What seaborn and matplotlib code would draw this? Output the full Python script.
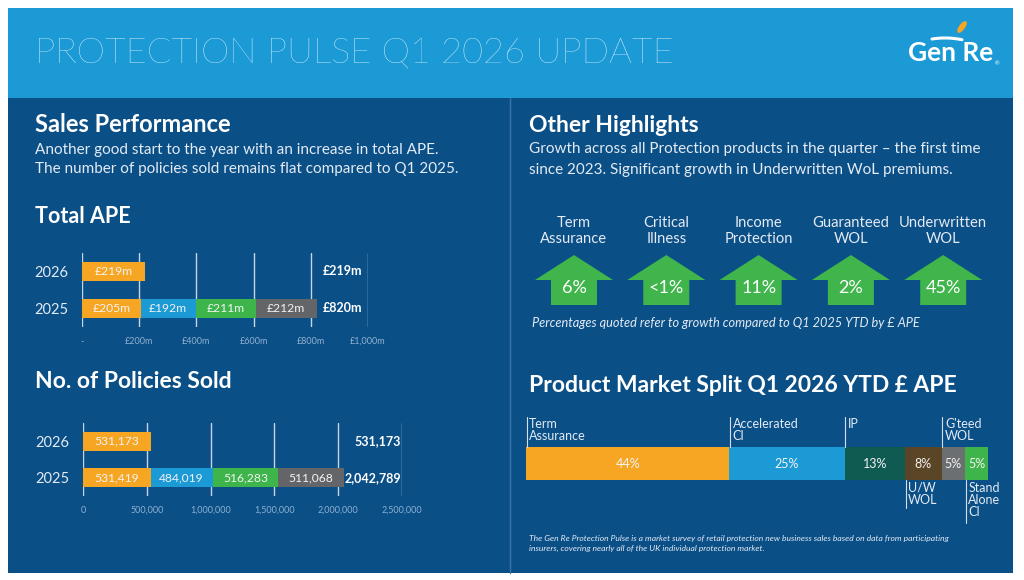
import numpy as np
import pandas as pd
import matplotlib
matplotlib.use("Agg")
import matplotlib.pyplot as plt
import seaborn as sns
from matplotlib.patches import Rectangle, Polygon, Ellipse
from matplotlib.lines import Line2D

# ---------------- data ----------------
title = "PROTECTION PULSE Q1 2026 UPDATE"
years = ["2026", "2025"]
ape_2026 = [219]
ape_2025 = [205, 192, 211, 212]
ape_seg_labels_2026 = ["£219m"]
ape_seg_labels_2025 = ["£205m", "£192m", "£211m", "£212m"]
ape_totals = ["£219m", "£820m"]
ape_ticks = [0, 200, 400, 600, 800, 1000]
ape_tick_labels = ["-", "£200m", "£400m", "£600m", "£800m", "£1,000m"]

pol_2026 = [531173]
pol_2025 = [531419, 484019, 516283, 511068]
pol_totals = ["531,173", "2,042,789"]
pol_ticks = [0, 500000, 1000000, 1500000, 2000000, 2500000]
pol_tick_labels = ["0", "500,000", "1,000,000", "1,500,000", "2,000,000", "2,500,000"]

growth_products = ["Term\nAssurance", "Critical\nIllness", "Income\nProtection",
                   "Guaranteed\nWOL", "Underwritten\nWOL"]
growth_labels = ["6%", "<1%", "11%", "2%", "45%"]

split_products = ["Term\nAssurance", "Accelerated\nCI", "IP", "U/W\nWOL",
                  "G'teed\nWOL", "Stand\nAlone\nCI"]
split_values = [44, 25, 13, 8, 5, 5]

# ---------------- style ----------------
HEADER = "#1b9ad6"
BODY = "#0b4f87"
QCOLS = ["#f6a623", "#1b9ad6", "#3db54a", "#646568"]
SPLIT_COLS = ["#f6a623", "#1b9ad6", "#0f5b52", "#5a4526", "#6c6f72", "#3db54a"]
ARROW = "#3fb54b"

sns.set_style("white")
plt.rcParams["font.family"] = ["Lato", "DejaVu Sans"]

W, H = 1024, 580
fig = plt.figure(figsize=(W / 100, H / 100), dpi=100)
fig.patch.set_facecolor("white")


def fx(x):
    return x / W


def fy(y):
    return 1 - y / H


def ftext(x, y, s, **kw):
    return fig.text(fx(x), fy(y), s, **kw)


def add_ax(l, t, r, b):
    return fig.add_axes([fx(l), fy(b), (r - l) / W, (b - t) / H])


def frect(l, t, r, b, color):
    fig.add_artist(Rectangle((fx(l), fy(b)), (r - l) / W, (b - t) / H,
                             transform=fig.transFigure, color=color, lw=0, zorder=0))


# backgrounds
frect(8, 8, 1013, 573, BODY)
frect(8, 8, 1013, 98, HEADER)
fig.add_artist(Line2D([fx(510), fx(510)], [fy(98), fy(573)], transform=fig.transFigure,
                      color="#3a74aa", lw=1.0))

# header
ftext(35, 53, title, fontsize=26, color="white", fontweight="light", va="center", ha="left")
ftext(908, 53, "Gen Re", fontsize=19, color="white", fontweight="bold", va="center", ha="left")
ftext(995, 64, "®", fontsize=4, color="white", va="center", ha="left")
sw_x = np.linspace(932, 962, 30)
sw_y = 36 + 0.012 * (sw_x - 945) ** 2 * 0.5 + 2
fig.add_artist(Line2D(fx(sw_x), fy(sw_y), transform=fig.transFigure, color="white", lw=2.2))
fig.add_artist(Ellipse((fx(962), fy(27)), 5 / W, 11 / H, angle=-20,
                       transform=fig.transFigure, color="#f6a623"))

LIGHT = "#e3ebf4"
HEAD_FS = 16.5
BODY_FS = 11

# left panel texts
ftext(35, 125, "Sales Performance", fontsize=17, color="white", fontweight="bold", va="center")
ftext(35, 150, "Another good start to the year with an increase in total APE.",
      fontsize=BODY_FS, color=LIGHT, va="center")
ftext(35, 169, "The number of policies sold remains flat compared to Q1 2025.",
      fontsize=BODY_FS, color=LIGHT, va="center")
ftext(35, 216, "Total APE", fontsize=15.5, color="white", fontweight="bold", va="center")
ftext(35, 381, "No. of Policies Sold", fontsize=HEAD_FS, color="white", fontweight="bold", va="center")


def stacked(ax, rows, colors, width):
    nseg = max(len(v) for v in rows.values())
    for k in range(nseg - 1, -1, -1):
        cats, cums = [], []
        for cat in years:
            vals = rows[cat]
            if len(vals) > k:
                cats.append(cat)
                cums.append(float(np.sum(vals[:k + 1])))
        df = pd.DataFrame({"value": cums, "year": cats})
        sns.barplot(data=df, x="value", y="year", order=years, orient="h",
                    color=colors[k], saturation=1, width=width, ax=ax,
                    errorbar=None, linewidth=0, edgecolor="none")


def style_bar_ax(ax, ticks, ticklabels, xmax):
    ax.set_xlim(0, xmax)
    ax.set_ylim(1.5, -0.5)
    ax.set_xticks(ticks)
    ax.set_xticklabels(ticklabels)
    ax.set_facecolor("none")
    for s in ax.spines.values():
        s.set_visible(False)
    ax.grid(axis="x", color="#c4d5e8", lw=1.0)
    ax.grid(axis="y", visible=False)
    ax.set_axisbelow(True)
    ax.tick_params(axis="x", length=0, pad=7, labelsize=6.5, labelcolor="#8fb0d0")
    ax.tick_params(axis="y", length=0, pad=10, labelsize=10.5, labelcolor=LIGHT)
    ax.set_xlabel("")
    ax.set_ylabel("")


def seg_labels(ax, rows, labels):
    for i, cat in enumerate(years):
        vals = np.array(rows[cat], dtype=float)
        lefts = np.concatenate([[0], np.cumsum(vals)[:-1]])
        for l, v, s in zip(lefts, vals, labels[cat]):
            ax.text(l + v / 2, i, s, ha="center", va="center", fontsize=8.7,
                    color="#f3f3f3")


# Total APE
ax1 = add_ax(82, 253, 368, 327)
ape_rows = {"2026": ape_2026, "2025": ape_2025}
stacked(ax1, ape_rows, QCOLS, 0.51)
style_bar_ax(ax1, ape_ticks, ape_tick_labels, 1000)
seg_labels(ax1, ape_rows, {"2026": ape_seg_labels_2026, "2025": ape_seg_labels_2025})
for i, t in enumerate(ape_totals):
    ax1.text(980, i, t, ha="right", va="center", fontsize=9, fontweight="bold", color="white")

# Policies
ax2 = add_ax(83, 423, 402, 496)
pol_rows = {"2026": pol_2026, "2025": pol_2025}
stacked(ax2, pol_rows, QCOLS, 0.51)
style_bar_ax(ax2, pol_ticks, pol_tick_labels, 2500000)
seg_labels(ax2, pol_rows, {"2026": ["{:,}".format(v) for v in pol_2026],
                           "2025": ["{:,}".format(v) for v in pol_2025]})
for i, t in enumerate(pol_totals):
    ax2.text(2490000, i, t, ha="right", va="center", fontsize=9, fontweight="bold", color="white")

# right panel texts
ftext(529, 126, "Other Highlights", fontsize=HEAD_FS, color="white", fontweight="bold", va="center")
ftext(529, 149, "Growth across all Protection products in the quarter \u2013 the first time",
      fontsize=BODY_FS, color=LIGHT, va="center")
ftext(529, 170, "since 2023. Significant growth in Underwritten WoL premiums.",
      fontsize=BODY_FS, color=LIGHT, va="center")

for i, (prod, lab) in enumerate(zip(growth_products, growth_labels)):
    cx = 574 + i * 92.3
    ftext(cx, 231, prod, fontsize=10.6, color=LIGHT, ha="center", va="center", linespacing=1.15)
    pts = [(cx, 255), (cx + 39, 280), (cx + 23, 280), (cx + 23, 305),
           (cx - 23, 305), (cx - 23, 280), (cx - 39, 280)]
    fig.add_artist(Polygon([(fx(x), fy(y)) for x, y in pts], closed=True,
                           transform=fig.transFigure, color=ARROW, lw=0))
    ftext(cx, 288, lab, fontsize=13, color="white", ha="center", va="center")

ftext(532, 323, "Percentages quoted refer to growth compared to Q1 2025 YTD by £ APE",
      fontsize=9.2, color=LIGHT, style="italic", va="center")

ftext(529, 386, "Product Market Split Q1 2026 YTD £ APE", fontsize=HEAD_FS, color="white",
      fontweight="bold", va="center")

# split bar
ax3 = add_ax(526, 410, 988, 530)
split_cum = np.cumsum(split_values)
for k in range(len(split_values) - 1, -1, -1):
    sns.barplot(x=[float(split_cum[k])], y=["Q1 2026"], orient="h", color=SPLIT_COLS[k],
                saturation=1, width=1.0, ax=ax3, errorbar=None, linewidth=0, edgecolor="none")
ax3.set_xlim(0, 100)
ax3.set_ylim((530 - 463.5) / 33, (410 - 463.5) / 33)
ax3.axis("off")


def py(p):
    return (p - 463.5) / 33


split_lefts = np.concatenate([[0], split_cum[:-1]])
above = [0, 1, 2, 4]
below_ends = {3: 508, 5: 523}
for k, (l, v, name) in enumerate(zip(split_lefts, split_values, split_products)):
    ax3.text(l + v / 2, 0, f"{v}%", ha="center", va="center", fontsize=9, color="#f3f3f3")
    if k in above:
        ax3.plot([l + 0.15, l + 0.15], [py(417), py(447)], color="#d5e0ec", lw=0.8, clip_on=False)
        ax3.text(l + 0.7, py(418), name, ha="left", va="top", fontsize=9, color=LIGHT,
                 linespacing=1.0)
    else:
        ax3.plot([l + 0.15, l + 0.15], [py(480), py(below_ends[k])], color="#d5e0ec", lw=0.8,
                 clip_on=False)
        ax3.text(l + 0.7, py(482), name, ha="left", va="top", fontsize=9, color=LIGHT,
                 linespacing=1.0)

ftext(529, 538, "The Gen Re Protection Pulse is a market survey of retail protection new business "
      "sales based on data from participating", fontsize=6.1, color=LIGHT, style="italic",
      va="center")
ftext(529, 548, "insurers, covering nearly all of the UK individual protection market.",
      fontsize=6.1, color=LIGHT, style="italic", va="center")

fig.savefig("out.png", dpi=100, facecolor="white")
